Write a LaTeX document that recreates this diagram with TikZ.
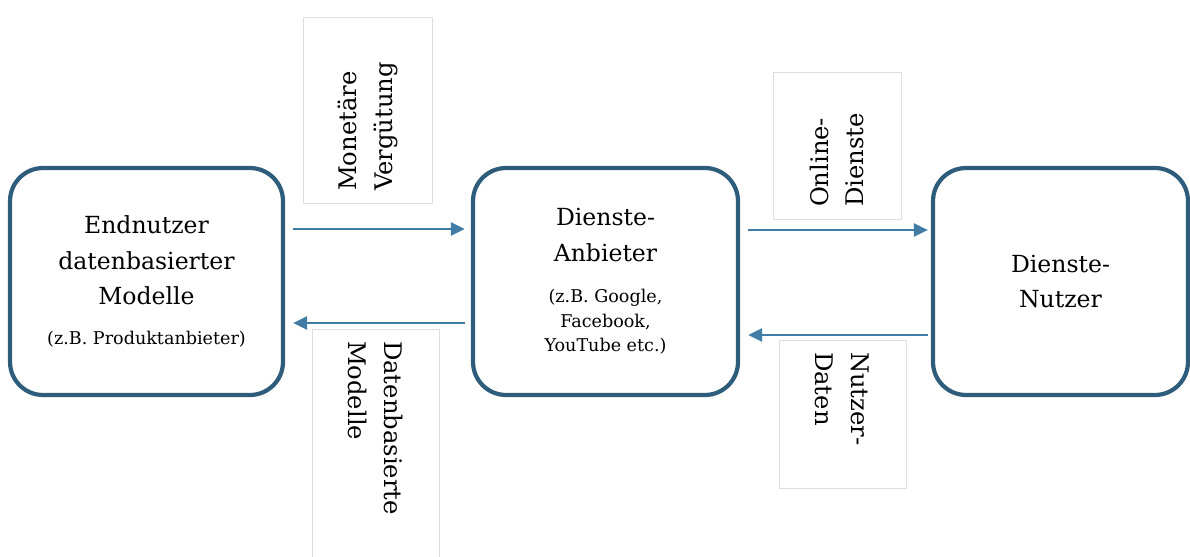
\documentclass[tikz,border=0pt]{standalone}
\usepackage{fontspec}
\setmainfont{DejaVu Serif}
\usetikzlibrary{calc, arrows.meta}

\definecolor{rahmen}{RGB}{46,93,124}
\definecolor{pfeil}{RGB}{64,124,164}

\begin{document}
\begin{tikzpicture}[x=0.02cm, y=-0.02cm,
  akteur/.style={draw=rahmen, line width=2.4pt, rounded corners=0.66cm,
    align=center, minimum height=4.54cm, inner sep=0pt,
    font=\fontsize{13.4}{20.3}\selectfont},
  fluss/.style={draw=pfeil, line width=1.5pt,
    -{Triangle[length=0.28cm, width=0.26cm]}},
  etikett/.style={draw=black!13, line width=0.5pt, inner xsep=0.24cm,
    align=left, font=\fontsize{13.8}{20.4}\selectfont}]
  \useasboundingbox (0,0) rectangle (1190,557);

  % Akteure
  \node[akteur, minimum width=5.46cm] (endnutzer) at (146.5,281.5)
    {Endnutzer\\ datenbasierter\\ Modelle\\[2.5pt]
     {\fontsize{10}{14}\selectfont (z.B. Produktanbieter)}};
  \node[akteur, minimum width=5.3cm] (anbieter) at (605.5,281.5)
    {Dienste-\\ Anbieter\\[3pt]
     {\fontsize{10}{14}\selectfont (z.B. Google,}\\[-6.3pt]
     {\fontsize{10}{14}\selectfont Facebook,}\\[-6.3pt]
     {\fontsize{10}{14}\selectfont YouTube etc.)}};
  \node[akteur, minimum width=5.1cm] (nutzer) at (1060.5,281.5)
    {Dienste-\\ Nutzer};

  % Pfeile
  \draw[fluss] ($(endnutzer.east)+(8,-52.5)$) -- ($(anbieter.west)+(-6,-52.5)$);
  \draw[fluss] ($(anbieter.west)+(-6,41.5)$) -- ($(endnutzer.east)+(8,41.5)$);
  \draw[fluss] ($(anbieter.east)+(8,-51.5)$) -- ($(nutzer.west)+(-3,-51.5)$);
  \draw[fluss] ($(nutzer.west)+(-3,53.5)$) -- ($(anbieter.east)+(8,53.5)$);

  % Beschriftungen
  \node[etikett, rotate=90, text width=3.24cm, minimum height=2.58cm]
    (verguetung) at (367.5,110) {Monetäre\\ Vergütung};
  \node[etikett, rotate=-90, text width=4.18cm, minimum height=2.54cm]
    (modelle) at (375.5,445.5) {Datenbasierte\\ Modelle};
  \node[etikett, rotate=90, text width=2.46cm, minimum height=2.56cm]
    (dienste) at (837,145.5) {Online-\\ Dienste};
  \node[etikett, rotate=-90, text width=2.48cm, minimum height=2.54cm]
    (daten) at (842.5,414) {Nutzer-\\ Daten};
\end{tikzpicture}
\end{document}
